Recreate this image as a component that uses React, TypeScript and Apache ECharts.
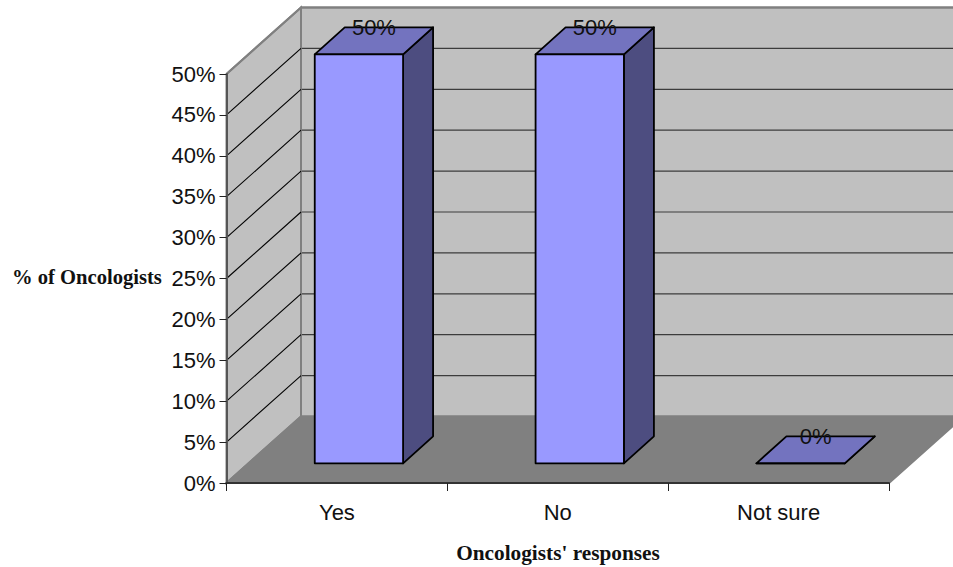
import React, { useEffect, useRef } from "react";
import * as echarts from "echarts";

const categories = ["Yes", "No", "Not sure"];
const responseValues = [50, 50, 0];
const gridTicks = [5, 10, 15, 20, 25, 30, 35, 40, 45, 50];
const yAxisTitle = "% of Oncologists";
const xAxisTitle = "Oncologists' responses";

const WALL_DX = 74.5;
const WALL_DY = -66.5;
const BAR_DX = 22;
const BAR_DY = -19.7;
const DEPTH_DX = 30;
const DEPTH_DY = -27;

export default function App() {
  const ref = useRef<HTMLDivElement>(null);
  useEffect(() => {
    document.body.style.margin = "0";
    const chart = echarts.init(ref.current!, null, { renderer: "svg" });
    chart.setOption({
      animation: false,
      backgroundColor: "#fff",
      grid: { left: 226.5, right: 64, top: 74, bottom: 84, containLabel: false },
      xAxis: {
        type: "category",
        data: categories,
        axisLine: { lineStyle: { color: "#333", width: 2 } },
        axisTick: { show: true, alignWithLabel: false, length: 8, lineStyle: { color: "#222", width: 1 } },
        axisLabel: { color: "#111", fontFamily: "Liberation Sans", fontSize: 22, margin: 18 },
        splitLine: { show: false },
        z: 5,
      },
      yAxis: {
        type: "value",
        min: 0,
        max: 50,
        interval: 5,
        axisLine: { show: true, lineStyle: { color: "#555", width: 2 } },
        axisTick: { show: true, length: 7, lineStyle: { color: "#222", width: 1 } },
        axisLabel: { color: "#111", fontFamily: "Liberation Sans", fontSize: 22, margin: 11, formatter: "{value}%" },
        splitLine: { show: false },
        z: 5,
      },
      graphic: [
        {
          type: "text",
          x: 12,
          y: 266,
          style: {
            text: yAxisTitle,
            fontFamily: "Liberation Serif",
            fontWeight: "bold",
            fontSize: 20.6,
            fill: "#111",
          },
        },
        {
          type: "text",
          x: 558,
          y: 542,
          style: {
            text: xAxisTitle,
            align: "center",
            fontFamily: "Liberation Serif",
            fontWeight: "bold",
            fontSize: 21.3,
            fill: "#111",
          },
        },
      ],
      series: [
        {
          type: "custom",
          name: "walls",
          coordinateSystem: "cartesian2d",
          silent: true,
          clip: false,
          z: 1,
          data: [[0, 0]],
          renderItem: (params: any) => {
            const g = params.coordSys;
            const L = g.x;
            const R = g.x + g.width;
            const T = g.y;
            const B = g.y + g.height;
            const bl = L + WALL_DX;
            const br = R + WALL_DX;
            const gray = { stroke: "#808080", lineWidth: 2 };
            return {
              type: "group",
              children: [
                {
                  type: "polygon",
                  shape: { points: [[bl, T + WALL_DY], [br, T + WALL_DY], [br, B + WALL_DY], [bl, B + WALL_DY]] },
                  style: { fill: "#c0c0c0", ...gray },
                },
                {
                  type: "polygon",
                  shape: { points: [[L, T], [bl, T + WALL_DY], [bl, B + WALL_DY], [L, B]] },
                  style: { fill: "#c0c0c0", ...gray },
                },
                {
                  type: "polygon",
                  shape: { points: [[L, B], [bl, B + WALL_DY], [br, B + WALL_DY], [R, B]] },
                  style: { fill: "#808080", ...gray },
                },
              ],
            };
          },
        },
        {
          type: "custom",
          name: "gridlines",
          coordinateSystem: "cartesian2d",
          silent: true,
          clip: false,
          z: 2,
          data: gridTicks.map((v) => [0, v]),
          renderItem: (params: any, api: any) => {
            const g = params.coordSys;
            const y = api.coord([0, api.value(1)])[1];
            const last = api.value(1) === 50;
            return {
              type: "group",
              children: [
                {
                  type: "line",
                  shape: { x1: g.x + WALL_DX + 1, y1: y + WALL_DY, x2: g.x + g.width + WALL_DX, y2: y + WALL_DY },
                  style: { stroke: last ? "#808080" : "#3c3c3c", lineWidth: last ? 2 : 1.2 },
                },
                {
                  type: "line",
                  shape: { x1: g.x, y1: y, x2: g.x + WALL_DX, y2: y + WALL_DY },
                  style: { stroke: last ? "#808080" : "#000", lineWidth: last ? 2 : 1.1 },
                },
              ],
            };
          },
        },
        {
          type: "custom",
          name: "bars",
          coordinateSystem: "cartesian2d",
          clip: false,
          z: 3,
          data: responseValues.map((v, i) => [i, v]),
          renderItem: (_: any, api: any) => {
            const top = api.coord([api.value(0), api.value(1)]);
            const base = api.coord([api.value(0), 0]);
            const w = api.size([1, 0])[0] * 0.4;
            const x0 = top[0] + BAR_DX - w / 2;
            const x1 = x0 + w;
            const yt = top[1] + BAR_DY;
            const yb = base[1] + BAR_DY;
            const edge = { stroke: "#000", lineWidth: 1.8, lineJoin: "round" };
            return {
              type: "group",
              children: [
                {
                  type: "polygon",
                  shape: { points: [[x1, yt], [x1 + DEPTH_DX, yt + DEPTH_DY], [x1 + DEPTH_DX, yb + DEPTH_DY], [x1, yb]] },
                  style: { fill: "#4d4d80", ...edge },
                },
                {
                  type: "polygon",
                  shape: { points: [[x0, yt], [x0 + DEPTH_DX, yt + DEPTH_DY], [x1 + DEPTH_DX, yt + DEPTH_DY], [x1, yt]] },
                  style: { fill: "#7373bf", ...edge },
                },
                {
                  type: "polygon",
                  shape: { points: [[x0, yt], [x1, yt], [x1, yb], [x0, yb]] },
                  style: { fill: "#9999ff", ...edge },
                },
                {
                  type: "text",
                  x: (x0 + x1) / 2 + DEPTH_DX / 2,
                  y: yt + DEPTH_DY,
                  style: {
                    text: api.value(1) + "%",
                    fontFamily: "Liberation Sans",
                    fontSize: 22,
                    fill: "#111",
                    align: "center",
                    verticalAlign: "middle",
                  },
                },
              ],
            };
          },
        },
      ],
    });
    return () => chart.dispose();
  }, []);
  return <div ref={ref} style={{ width: 953, height: 567 }} />;
}
